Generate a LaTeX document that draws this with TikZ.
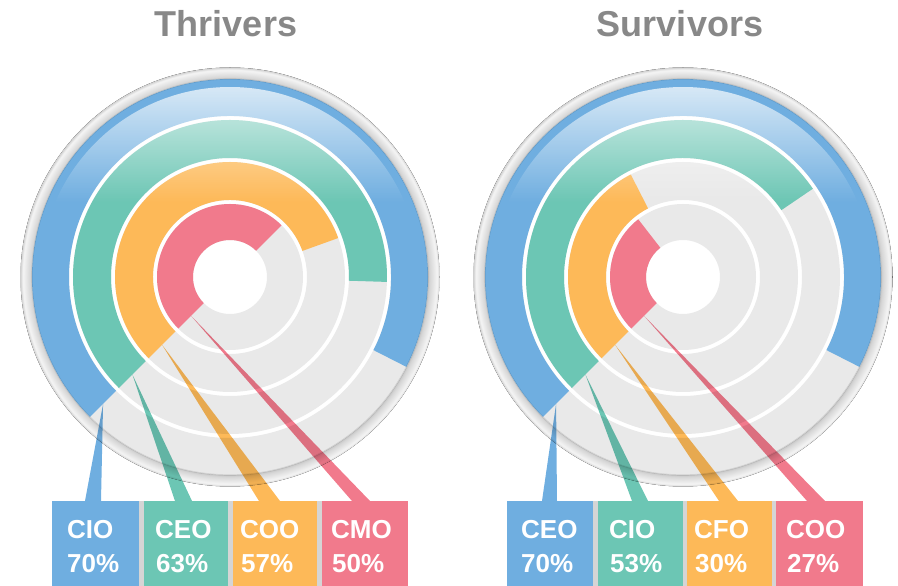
\documentclass[tikz,border=0pt]{standalone}
\usepackage{fontspec}
\setmainfont{Liberation Sans}
\usetikzlibrary{fadings}
\definecolor{cblue}{HTML}{6FAEE0}
\definecolor{cgreen}{HTML}{6CC6B4}
\definecolor{corange}{HTML}{FDB958}
\definecolor{cpink}{HTML}{F17A8C}
\definecolor{ctrack}{HTML}{E9E9E9}
\definecolor{ctitle}{HTML}{888888}
\definecolor{cstrip}{HTML}{D5D5D5}
\pgfdeclareradialshading{rimshade}{\pgfpointorigin}{%
  rgb(0bp)=(0.78,0.78,0.78);
  rgb(23.55bp)=(0.76,0.76,0.76);
  rgb(23.85bp)=(0.84,0.84,0.84);
  rgb(24.35bp)=(0.91,0.91,0.91);
  rgb(24.70bp)=(0.96,0.96,0.96);
  rgb(24.92bp)=(0.87,0.87,0.87);
  rgb(25bp)=(0.81,0.81,0.81);
  rgb(50bp)=(0.81,0.81,0.81)}
\tikzfading[name=glossfade, top color=transparent!0, middle color=transparent!85, bottom color=transparent!100]
% annular sector: center, r inner, r outer, start angle, end angle, colour
\newcommand\ringseg[6]{%
  \fill[#6] ([shift={(#4:#3pt)}]#1) arc[start angle=#4, end angle=#5, radius=#3pt]
    -- ([shift={(#5:#2pt)}]#1) arc[start angle=#5, end angle=#4, radius=#2pt] -- cycle;}
\newcommand\chartbase[1]{%
  \fill[shading=rimshade] (#1) circle[radius=209.5pt];
  \fill[white] (#1) circle[radius=198pt];
  \ringseg{#1}{37}{73}{0}{360}{ctrack}
  \ringseg{#1}{77}{115}{0}{360}{ctrack}
  \ringseg{#1}{119}{157}{0}{360}{ctrack}
  \ringseg{#1}{161}{198}{0}{360}{ctrack}}
\newcommand\chartgloss[1]{%
  \begin{scope}
    \clip (#1) circle[radius=190pt];
    \fill[white, fill opacity=0.72, path fading=glossfade]
      ([shift={(-200pt,190pt)}]#1) rectangle ([shift={(200pt,75pt)}]#1);
  \end{scope}
  \draw[black, opacity=0.10, line width=1.2pt] (#1) circle[radius=198pt];}
\tikzset{
  title/.style={font=\fontsize{36}{40}\selectfont\bfseries, text=ctitle, anchor=base, inner sep=0pt},
  lbl/.style={font=\fontsize{26}{30}\selectfont\bfseries, text=white, anchor=base west, inner sep=0pt},
  box/.style={inner sep=0pt, minimum height=85pt, anchor=south west, draw=none},
  wedge/.style={blend mode=multiply}
}
\begin{document}
\begin{tikzpicture}[x=1pt,y=1pt]
\useasboundingbox (0,0) rectangle (898,586);
\coordinate (cT) at (230,309);
\coordinate (cS) at (683,309);

% ---------------- Thrivers ----------------
\node[title] (titleT) at (226,549) {Thrivers};
\chartbase{cT}
\ringseg{cT}{161}{198}{225}{-27}{cblue}
\ringseg{cT}{119}{157}{225}{-1.8}{cgreen}
\ringseg{cT}{77}{115}{225}{19.8}{corange}
\ringseg{cT}{37}{73}{225}{45}{cpink}
\chartgloss{cT}

\fill[cstrip] (52,0) rectangle (408,85);
\node[box, fill=cblue, minimum width=87pt] (bT1) at (52,0) {};
\node[box, fill=cgreen, minimum width=84.5pt] (bT2) at (143.5,0) {};
\node[box, fill=corange, minimum width=84.5pt] (bT3) at (232.5,0) {};
\node[box, fill=cpink, minimum width=86.5pt] (bT4) at (321.5,0) {};

\coordinate (aT1) at ([shift={(225:179.5pt)}]cT);
\coordinate (aT2) at ([shift={(225:138pt)}]cT);
\coordinate (aT3) at ([shift={(225:96pt)}]cT);
\coordinate (aT4) at ([shift={(225:55pt)}]cT);
\fill[cblue, wedge] (aT1) -- (85,85) -- (101,85) -- cycle;
\fill[cgreen, wedge] (aT2) -- (175,85) -- (192,85) -- cycle;
\fill[corange, wedge] (aT3) -- (259,85) -- (280,85) -- cycle;
\fill[cpink, wedge] (aT4) -- (352,85) -- (370,85) -- cycle;

\node[lbl] (lT1a) at (67,47) {CIO};
\node[lbl] (lT1b) at (67,13) {70\%};
\node[lbl] (lT2a) at (155,47) {CEO};
\node[lbl] (lT2b) at (156,13) {63\%};
\node[lbl] (lT3a) at (240,47) {COO};
\node[lbl] (lT3b) at (241,13) {57\%};
\node[lbl] (lT4a) at (331,47) {CMO};
\node[lbl] (lT4b) at (332,13) {50\%};

% ---------------- Survivors ----------------
\node[title] (titleS) at (680,549) {Survivors};
\chartbase{cS}
\ringseg{cS}{161}{198}{225}{-27}{cblue}
\ringseg{cS}{119}{157}{225}{34.2}{cgreen}
\ringseg{cS}{77}{115}{225}{117}{corange}
\ringseg{cS}{37}{73}{225}{127.8}{cpink}
\chartgloss{cS}

\fill[cstrip] (507,0) rectangle (863,85);
\node[box, fill=cblue, minimum width=86pt] (bS1) at (507,0) {};
\node[box, fill=cgreen, minimum width=85pt] (bS2) at (597.5,0) {};
\node[box, fill=corange, minimum width=85.5pt] (bS3) at (686.5,0) {};
\node[box, fill=cpink, minimum width=87pt] (bS4) at (776,0) {};

\coordinate (aS1) at ([shift={(225:179.5pt)}]cS);
\coordinate (aS2) at ([shift={(225:138pt)}]cS);
\coordinate (aS3) at ([shift={(225:96pt)}]cS);
\coordinate (aS4) at ([shift={(225:55pt)}]cS);
\fill[cblue, wedge] (aS1) -- (542,85) -- (557,85) -- cycle;
\fill[cgreen, wedge] (aS2) -- (632,85) -- (648,85) -- cycle;
\fill[corange, wedge] (aS3) -- (719,85) -- (738,85) -- cycle;
\fill[cpink, wedge] (aS4) -- (807,85) -- (825,85) -- cycle;

\node[lbl] (lS1a) at (521,47) {CEO};
\node[lbl] (lS1b) at (521,13) {70\%};
\node[lbl] (lS2a) at (609,47) {CIO};
\node[lbl] (lS2b) at (610,13) {53\%};
\node[lbl] (lS3a) at (694,47) {CFO};
\node[lbl] (lS3b) at (695,13) {30\%};
\node[lbl] (lS4a) at (786,47) {COO};
\node[lbl] (lS4b) at (787,13) {27\%};
\end{tikzpicture}
\end{document}
